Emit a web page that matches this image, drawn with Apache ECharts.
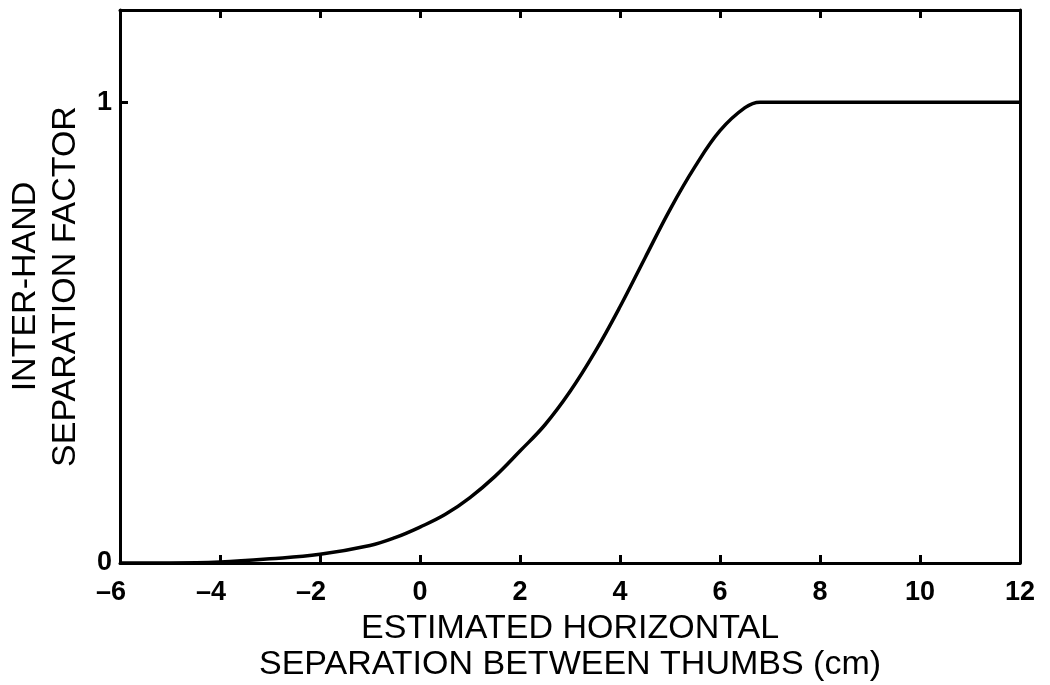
<!DOCTYPE html>
<html>
<head>
<meta charset="utf-8">
<script src="https://cdn.jsdelivr.net/npm/echarts@6/dist/echarts.min.js"></script>
<style>html,body{margin:0;padding:0;background:#fff;}#c{width:1050px;height:685px;}</style>
</head>
<body>
<div id="c"></div>
<script>
// Data
const xValues = [-6, -5, -4, -3, -2, -1, -0.5, 0, 0.5, 1, 1.5, 2, 2.5, 3, 3.5, 4, 4.5, 5, 5.5, 6, 6.5, 6.8, 7, 8, 9, 10, 11, 12];
const yValues = [0, 0, 0.002, 0.009, 0.019, 0.038, 0.055, 0.078, 0.105, 0.142, 0.188, 0.243, 0.300, 0.372, 0.458, 0.556, 0.662, 0.767, 0.86, 0.938, 0.988, 1, 1, 1, 1, 1, 1, 1];
const xTicks = [-6, -4, -2, 0, 2, 4, 6, 8, 10, 12];
const yTicks = [0, 1];
const xTitle = 'ESTIMATED HORIZONTAL\nSEPARATION BETWEEN THUMBS (cm)';
const yTitle = 'INTER-HAND\nSEPARATION FACTOR';

const FONT = '"Liberation Sans", Arial, Helvetica, sans-serif';
const lineData = xValues.map((x, i) => [x, yValues[i]]);

const chart = echarts.init(document.getElementById('c'), null, {renderer: 'canvas'});
const tickStyle = {show: true, inside: true, length: 8, lineStyle: {color: '#000', width: 3}};
const axisLineStyle = {show: true, onZero: false, lineStyle: {color: '#000', width: 3}};
const labelBase = {color: '#000', fontFamily: FONT, fontSize: 27, fontWeight: 'bold'};

chart.setOption({
  backgroundColor: '#fff',
  animation: false,
  grid: {left: 120, right: 30, top: 10, bottom: 122, show: false, containLabel: false, outerBoundsMode: 'none'},
  xAxis: [{
    type: 'value', min: -6, max: 12, interval: 2,
    axisLine: axisLineStyle,
    axisTick: Object.assign({}, tickStyle, {customValues: xTicks}),
    splitLine: {show: false},
    axisLabel: Object.assign({}, labelBase, {
      margin: 16,
      customValues: xTicks,
      formatter: v => v < 0 ? '{neg|\u2013' + Math.abs(v) + '}' : String(v),
      rich: {neg: Object.assign({}, labelBase, {padding: [0, 18, 0, 0]})}
    }),
    name: xTitle, nameLocation: 'middle', nameGap: 46,
    nameTextStyle: {color: '#000', fontFamily: FONT, fontSize: 34, lineHeight: 36}
  }, {
    type: 'value', position: 'top', min: -6, max: 12, interval: 2,
    axisLine: axisLineStyle,
    axisTick: Object.assign({}, tickStyle, {customValues: xTicks}),
    axisLabel: {show: false}, splitLine: {show: false}
  }],
  yAxis: [{
    type: 'value', min: 0, max: 1.2,
    axisLine: axisLineStyle,
    axisTick: Object.assign({}, tickStyle, {customValues: yTicks}),
    splitLine: {show: false},
    axisLabel: Object.assign({}, labelBase, {margin: 8, customValues: yTicks}),
    name: yTitle, nameLocation: 'middle', nameGap: 33,
    nameTextStyle: {color: '#000', fontFamily: FONT, fontSize: 34, lineHeight: 40}
  }, {
    type: 'value', position: 'right', min: 0, max: 1.2,
    axisLine: axisLineStyle,
    axisTick: Object.assign({}, tickStyle, {customValues: yTicks}),
    axisLabel: {show: false}, splitLine: {show: false}
  }],
  series: [{
    type: 'line', data: lineData, showSymbol: false, smooth: 0.4,
    lineStyle: {color: '#000', width: 3.5}, xAxisIndex: 0, yAxisIndex: 0
  }]
});
</script>
</body>
</html>
